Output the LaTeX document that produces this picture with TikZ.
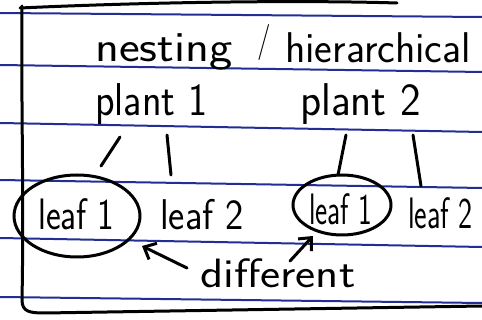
\documentclass[tikz,border=0pt]{standalone}
\usetikzlibrary{shapes.geometric,arrows.meta}
\definecolor{rule}{RGB}{35,45,150}
\newcommand\hwtext[2]{\scalebox{#1}[1]{#2}}
\tikzset{
  hw/.style={inner sep=0pt, anchor=base west, text=black, font=\fontsize{#1}{#1}\sffamily},
  ink/.style={line width=3pt, line cap=round, line join=round, black},
  ruleline/.style={line width=2pt, rule},
  oval/.style={draw, ellipse, line width=3pt, inner sep=0pt},
  pointer/.style={ink, -{Straight Barb[length=10pt, width=18pt, line width=3pt]}},
}
\begin{document}
\begin{tikzpicture}[x=1pt, y=-1pt]
\useasboundingbox (0,0) rectangle (482,320);
\clip (0,0) rectangle (482,320);
\fill[white] (0,0) rectangle (482,320);
% ruled paper lines
\draw[ruleline] (0,13) -- (482,17);
\draw[ruleline] (0,65) -- (482,72);
\draw[ruleline] (0,123) -- (482,132);
\draw[ruleline] (0,180) -- (482,188);
\draw[ruleline] (0,238) -- (482,247);
\draw[ruleline] (0,297) -- (482,303);
% frame
\draw[ink] (20,8) .. controls (150,2) and (300,0) .. (397,3);
\draw[ink] (22,6) .. controls (21,100) and (24,200) .. (22,300)
  .. controls (22,312) and (30,313) .. (45,313) -- (482,306);
% texts
\node[hw=43] (nest) at (95,62) {\hwtext{1.15}{nesting}};
\node[hw=36] (slash) at (257,52) {\hwtext{0.8}{/}};
\node[hw=43] (hier) at (285,63) {\hwtext{0.98}{hierarchical}};
\node[hw=46] (p1) at (95,116) {\hwtext{0.88}{plant 1}};
\node[hw=46] (p2) at (300,116) {\hwtext{0.95}{plant 2}};
\node[oval, minimum width=126pt, minimum height=82pt] (ovL) at (77,216) {};
\node[oval, minimum width=98pt, minimum height=60pt] (ovR) at (342,205) {};
\node[hw=44] (l1a) at (38,230) {\hwtext{0.8}{leaf 1}};
\node[hw=43] (l2a) at (160,230) {\hwtext{0.9}{leaf 2}};
\node[hw=44] (l1b) at (309,225) {\hwtext{0.66}{leaf 1}};
\node[hw=44] (l2b) at (408,229) {\hwtext{0.68}{leaf 2}};
\node[hw=41] (diff) at (200,288) {\hwtext{1.17}{different}};
% branches
\coordinate (b1s) at (120,137); \coordinate (b1e) at (101,166);
\coordinate (b2s) at (167,135); \coordinate (b2e) at (171,175);
\coordinate (b3s) at (346,135); \coordinate (b3e) at (338,175);
\coordinate (b4s) at (413,135); \coordinate (b4e) at (421,186);
\draw[ink] (b1s) -- (b1e);
\draw[ink] (b2s) -- (b2e);
\draw[ink] (b3s) -- (b3e);
\draw[ink] (b4s) -- (b4e);
% arrows
\coordinate (dL) at (187,268); \coordinate (aL) at (142,246);
\coordinate (dR) at (290,261); \coordinate (aR) at (313,236);
\draw[pointer] (dL) -- (aL);
\draw[pointer] (dR) -- (aR);
\end{tikzpicture}
\end{document}
